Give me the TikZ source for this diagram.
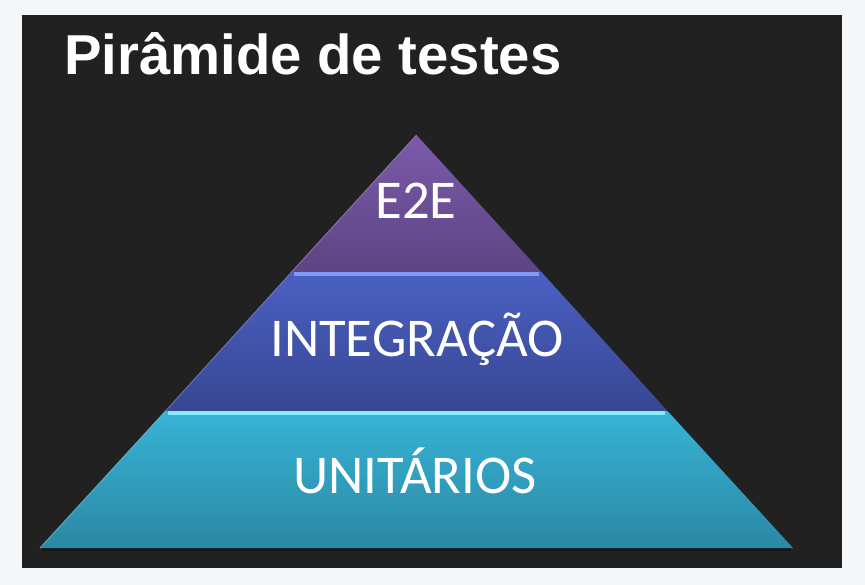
\documentclass[tikz,border=0pt]{standalone}
\usepackage{fontspec}
\setmainfont{Carlito}
\newfontfamily\titlefont{Liberation Sans}
\definecolor{outerbg}{HTML}{F3F7FA}
\definecolor{darkbg}{HTML}{212121}
\definecolor{purpleT}{HTML}{7B5BAA}
\definecolor{purpleB}{HTML}{5D4483}
\definecolor{blueT}{HTML}{4A60C2}
\definecolor{blueB}{HTML}{384793}
\definecolor{cyanT}{HTML}{38B3D6}
\definecolor{cyanB}{HTML}{2A88A3}
\definecolor{blueHi}{HTML}{7F9BF5}
\definecolor{cyanHi}{HTML}{86EDFF}
\begin{document}
\begin{tikzpicture}[x=0.75pt,y=-0.75pt,
  bandlabel/.style={text=white,font=\fontsize{41}{45}\selectfont,anchor=base},
  hiline/.style={line width=2.8pt}]
\useasboundingbox (0,0) rectangle (865,585);
\fill[outerbg] (0,0) rectangle (865,585);
\fill[darkbg] (22,15) rectangle (842,568);
% title
\node[anchor=base west,text=white,inner sep=0pt,font=\titlefont\bfseries\fontsize{42.2}{46}\selectfont] (title) at (64,75) {Pirâmide de testes};
% pyramid bands
\coordinate (apex) at (416.5,135);
\coordinate (l1) at (291.6,272);
\coordinate (r1) at (541.4,272);
\coordinate (l2) at (165.5,411);
\coordinate (r2) at (667.5,411);
\coordinate (l3) at (40,548);
\coordinate (r3) at (793,548);
% shadow under base
\fill[black,opacity=0.35] (42,548) rectangle (791,551);
\shade[top color=purpleT,bottom color=purpleB] (apex) -- (r1) -- (l1) -- cycle;
\shade[top color=blueT,bottom color=blueB] (l1) -- (r1) -- (r2) -- (l2) -- cycle;
\shade[top color=cyanT,bottom color=cyanB] (l2) -- (r2) -- (r3) -- (l3) -- cycle;
% highlights
\draw[hiline,blueHi] ([xshift=1.8pt,yshift=-1.3pt]l1) -- ([xshift=-1.8pt,yshift=-1.3pt]r1);
\draw[hiline,cyanHi] ([xshift=1.8pt,yshift=-1.3pt]l2) -- ([xshift=-1.8pt,yshift=-1.3pt]r2);
\draw[line width=0.8pt,purpleT!70!white,opacity=0.6] (apex) -- (l1);
\draw[line width=0.8pt,blueT!70!white,opacity=0.6] (l1) -- (l2);
\draw[line width=0.8pt,cyanT!70!white,opacity=0.6] (l2) -- (l3);
% labels
\node[bandlabel] (e2e) at (416,219) {E2E};
\node[bandlabel] (integ) at (417,356) {INTEGRAÇÃO};
\node[bandlabel] (unit) at (415,493) {UNITÁRIOS};
\end{tikzpicture}
\end{document}
